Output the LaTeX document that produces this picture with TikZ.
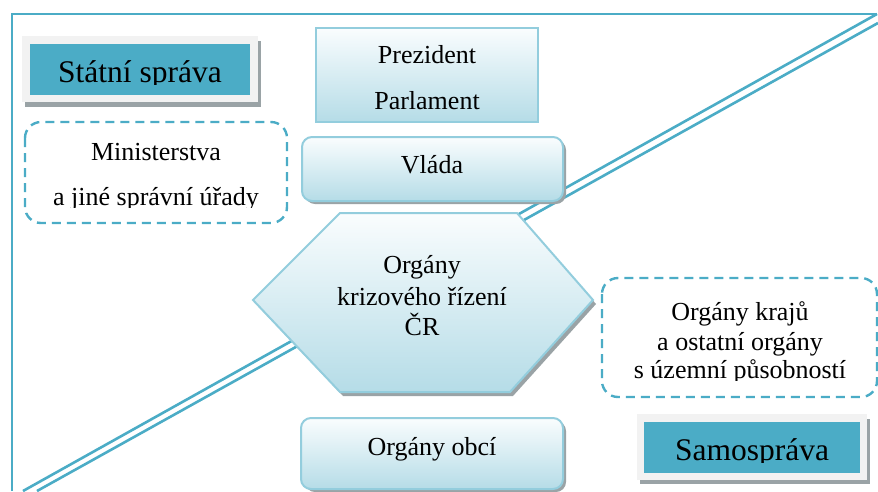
\documentclass[tikz,border=0pt]{standalone}
\usepackage{fontspec}
\setmainfont{Liberation Serif}
\definecolor{teal5}{HTML}{4BACC6}
\definecolor{edgeblue}{HTML}{93CDDD}
\definecolor{gradtop}{HTML}{FAFDFE}
\definecolor{gradbot}{HTML}{B5DCE7}
\definecolor{shadowgray}{HTML}{9AA3A6}
\definecolor{panelgray}{HTML}{F2F2F2}

\tikzset{
  frameline/.style={teal5, line width=2.6pt},
  gradbox/.style={draw=edgeblue, line width=2pt, top color=gradtop, bottom color=gradbot},
  dropshadow/.style={fill=shadowgray},
  dashbox/.style={draw=teal5, line width=2.4pt, dash pattern=on 9pt off 6pt,
                  rounded corners=16pt, fill=white},
  lbl/.style={anchor=base, inner sep=0pt, font=\fontsize{26}{30}\selectfont},
  title/.style={anchor=base, inner sep=0pt, font=\fontsize{31.5}{36}\selectfont},
}

\begin{document}
\begin{tikzpicture}[x=1pt,y=-1pt]
\useasboundingbox (0,0) rectangle (878,491);

% outer frame (left and top edges)
\coordinate (tl) at (12,14);
\coordinate (tr) at (877,14);
\coordinate (bl) at (12,491);
\draw[frameline] (bl) -- (tl) -- (tr);

% double diagonal separating state administration from self-government
\coordinate (d1a) at (877,14);  \coordinate (d1b) at (23,491);
\coordinate (d2a) at (878,23);  \coordinate (d2b) at (37,491);
\draw[frameline] (d1a) -- (d1b);
\draw[frameline] (d2a) -- (d2b);

% "Státní správa" label panel
\fill[dropshadow] (25,41) rectangle (261,107);
\fill[panelgray] (22,36) rectangle (258,102);
\fill[teal5] (30,44) rectangle (250,95);
\begin{scope}
  \clip (30,44) rectangle (250,84);
  \node[title] (statni) at (140,82) {Státní správa};
\end{scope}

% "Samospráva" label panel
\fill[dropshadow] (640,419) rectangle (870,484);
\fill[panelgray] (637,414) rectangle (867,480);
\fill[teal5] (644,422) rectangle (860,473);
\begin{scope}
  \clip (644,422) rectangle (860,462);
  \node[title] (samo) at (752,460) {Samospráva};
\end{scope}

% Prezident / Parlament
\path[gradbox] (316,28) rectangle (538,122);
\node[lbl] (prez) at (427,63) {Prezident};
\node[lbl] (parl) at (427,109) {Parlament};

% Vláda
\fill[dropshadow, rounded corners=10pt] (305,140) rectangle (566,204);
\path[gradbox, rounded corners=10pt] (302,137) rectangle (563,201);
\node[lbl] (vlada) at (432,173) {Vláda};

% crisis management hexagon
\fill[dropshadow, shift={(3,4)}]
  (340,213) -- (517,213) -- (593,300) -- (510,392) -- (340,392) -- (253,300) -- cycle;
\path[gradbox]
  (340,213) -- (517,213) -- (593,300) -- (510,392) -- (340,392) -- (253,300) -- cycle;
\node[lbl] (krizA) at (422,273) {Orgány};
\node[lbl] (krizB) at (422,305) {krizového řízení};
\node[lbl] (krizC) at (422,335) {ČR};

% Orgány obcí
\fill[dropshadow, rounded corners=10pt] (305,421) rectangle (566,492);
\path[gradbox, rounded corners=10pt] (301,418) rectangle (563,489);
\node[lbl] (obce) at (432,455) {Orgány obcí};

% ministries (dashed)
\path[dashbox] (25,122) rectangle (287,223);
\begin{scope}
  \clip (25,122) rectangle (287,207);
  \node[lbl] (minA) at (156,160) {Ministerstva};
  \node[lbl] (minB) at (156,205) {a jiné správní úřady};
\end{scope}

% regional bodies (dashed)
\path[dashbox] (602,278) rectangle (877,397);
\begin{scope}
  \clip (602,278) rectangle (877,380);
  \node[lbl] (krajA) at (740,320) {Orgány krajů};
  \node[lbl] (krajB) at (740,350) {a ostatní orgány};
  \node[lbl] (krajC) at (740,378) {s územní působností};
\end{scope}
\end{tikzpicture}
\end{document}
